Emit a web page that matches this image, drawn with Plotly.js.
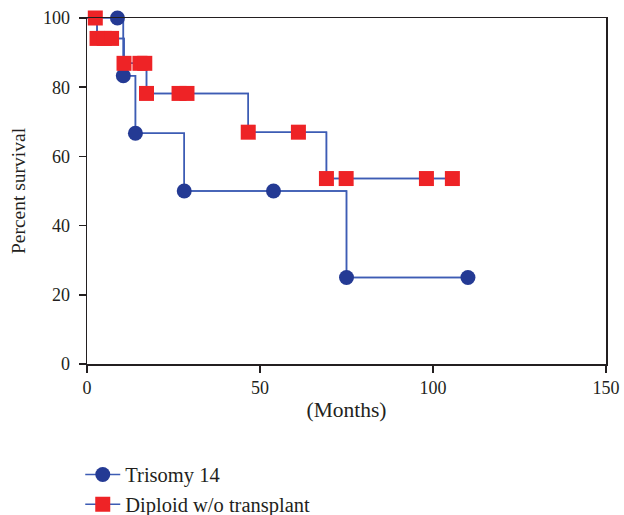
<!DOCTYPE html>
<html>
<head>
<meta charset="utf-8">
<script src="https://cdn.plot.ly/plotly-3.0.1.min.js"></script>
<style>html,body{margin:0;padding:0;background:#fff;}#chart{width:624px;height:515px;}</style>
</head>
<body>
<div id="chart"></div>
<script>
// Trisomy 14 (Kaplan-Meier points, months / percent survival)
const trisomyMonths   = [0, 8.8, 10.5, 14.0, 28.1, 53.9, 75.0, 110.1];
const trisomySurvival = [100, 100, 83.3, 66.7, 50.0, 50.0, 25.0, 25.0];

// Diploid w/o transplant
const diploidMonths   = [0, 2.4, 2.9, 5.0, 7.1, 10.7, 15.3, 16.7, 17.2, 26.6, 28.9, 46.6, 61.1, 69.2, 74.9, 98.1, 105.6];
const diploidSurvival = [100, 100, 94.1, 94.1, 94.1, 86.9, 86.9, 86.9, 78.2, 78.2, 78.2, 67.0, 67.0, 53.6, 53.6, 53.6, 53.6];

const seriesNames = ['Trisomy 14', 'Diploid w/o transplant'];
const xTicks = [0, 50, 100, 150];
const yTicks = [0, 20, 40, 60, 80, 100];

const lineColor = '#3d5cb4';
const textColor = '#231f20';
const font = 'Liberation Serif, Times New Roman, serif';

function stepLine(x, y) {
  return {x: x, y: y, mode: 'lines', line: {shape: 'hv', color: lineColor, width: 1.5},
          showlegend: false, hoverinfo: 'skip', cliponaxis: false};
}
function markerTrace(x, y, name, symbol, color) {
  return {x: x.slice(1), y: y.slice(1), name: name, mode: 'lines+markers',
          line: {shape: 'hv', color: lineColor, width: 1.5},
          marker: {symbol: symbol, size: 15, color: color, line: {width: 0}},
          cliponaxis: false};
}

const data = [
  stepLine(trisomyMonths, trisomySurvival),
  markerTrace(trisomyMonths, trisomySurvival, seriesNames[0], 'circle', '#243a94'),
  stepLine(diploidMonths, diploidSurvival),
  markerTrace(diploidMonths, diploidSurvival, seriesNames[1], 'square', '#ee2326')
];

const layout = {
  width: 624, height: 515,
  margin: {l: 87, r: 17.5, t: 18, b: 151, autoexpand: false},
  paper_bgcolor: '#fff', plot_bgcolor: '#fff',
  font: {family: font, size: 18, color: textColor},
  xaxis: {
    range: [0, 150], tickvals: xTicks, ticktext: xTicks.map(String),
    showgrid: false, zeroline: false, showline: true, linecolor: textColor, linewidth: 1.5,
    mirror: true, ticks: 'outside', ticklen: 7, tickwidth: 1.5, tickcolor: textColor,
    tickfont: {family: font, size: 18, color: textColor},
    title: {text: '(Months)', standoff: 5, font: {family: font, size: 21.5, color: textColor}}
  },
  yaxis: {
    range: [0, 100], tickvals: yTicks, ticktext: yTicks.map(String),
    showgrid: false, zeroline: false, showline: true, linecolor: textColor, linewidth: 1.5,
    mirror: true, ticks: 'outside', ticklen: 7, tickwidth: 1.5, tickcolor: textColor,
    ticklabelstandoff: 5,
    tickfont: {family: font, size: 18, color: textColor},
    title: {text: 'Percent survival', standoff: 12, font: {family: font, size: 19.5, color: textColor}}
  },
  legend: {x: -0.013, y: -0.262, xanchor: 'left', yanchor: 'top', orientation: 'v',
           bgcolor: 'rgba(0,0,0,0)', itemwidth: 35,
           font: {family: font, size: 20.5, color: textColor},
           itemsizing: 'trace', traceorder: 'normal'},
  showlegend: true
};

Plotly.newPlot('chart', data, layout, {displayModeBar: false, staticPlot: true});
</script>
</body>
</html>
